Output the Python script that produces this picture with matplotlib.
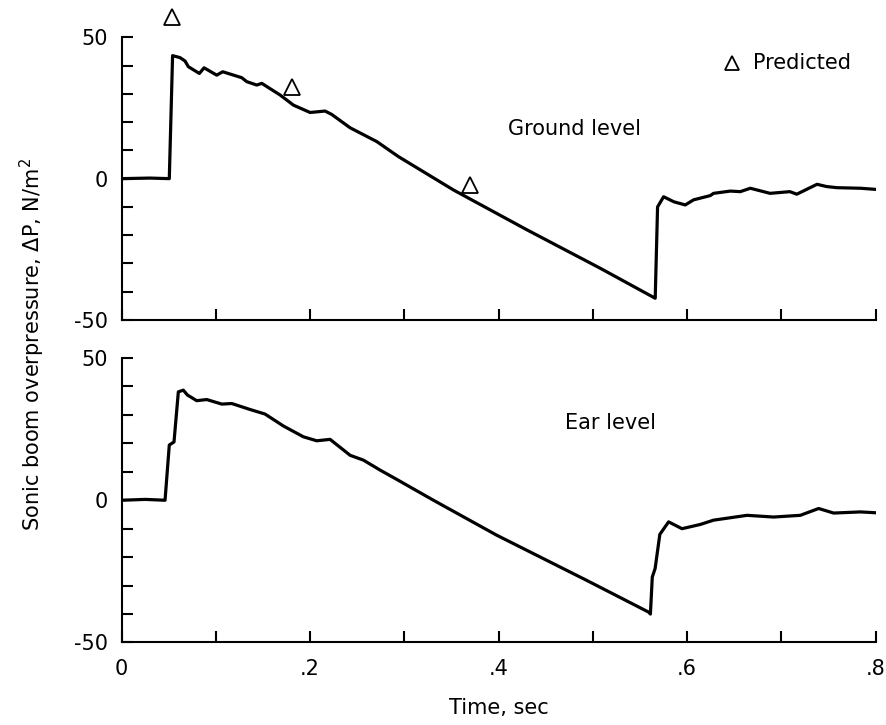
import matplotlib
matplotlib.use("Agg")
import matplotlib.pyplot as plt
from matplotlib.ticker import MultipleLocator

plt.rcParams['font.family'] = ['DejaVu Sans']

# Ground level trace (time in sec, overpressure in N/m^2)
ground_t = [0.0, 0.030, 0.0505, 0.054, 0.0619, 0.0672, 0.0707, 0.0824, 0.0874,
            0.1008, 0.1072, 0.1274, 0.1327, 0.1433, 0.1486, 0.168, 0.1822,
            0.1999, 0.2158, 0.2229, 0.2423, 0.2707, 0.2936, 0.352, 0.43,
            0.5078, 0.5661, 0.5686, 0.575, 0.586, 0.598, 0.6068, 0.6245,
            0.628, 0.6458, 0.6564, 0.667, 0.688, 0.709, 0.7163, 0.7378,
            0.748, 0.759, 0.784, 0.8]
ground_p = [0.0, 0.2, 0.0, 43.5, 42.8, 41.6, 39.6, 37.2, 39.2,
            36.6, 37.8, 35.7, 34.3, 33.1, 33.7, 29.6, 26.0,
            23.4, 23.9, 22.7, 18.0, 13.1, 7.8, -4.0, -18.1,
            -31.7, -42.3, -10.0, -6.4, -8.2, -9.3, -7.5, -6.0,
            -5.2, -4.4, -4.6, -3.4, -5.2, -4.6, -5.5, -2.0,
            -2.8, -3.2, -3.4, -3.8]

# Ear level trace
ear_t = [0.0, 0.025, 0.046, 0.0505, 0.0555, 0.0601, 0.0654, 0.0697, 0.0796,
         0.0902, 0.1062, 0.1168, 0.1362, 0.1521, 0.1716, 0.1928, 0.207,
         0.2211, 0.2424, 0.2565, 0.2742, 0.2936, 0.3308, 0.398, 0.4936,
         0.559, 0.561, 0.563, 0.566, 0.571, 0.5803, 0.5945, 0.614, 0.628,
         0.6635, 0.6917, 0.72, 0.7395, 0.7554, 0.784, 0.8]
ear_p = [0.0, 0.3, 0.0, 19.4, 20.5, 38.1, 38.7, 37.0, 35.0,
         35.4, 33.8, 34.0, 31.9, 30.3, 26.1, 22.3, 20.9,
         21.4, 15.8, 14.1, 10.6, 7.0, 0.0, -12.3, -28.2,
         -39.3, -40.0, -27.0, -24.0, -12.0, -7.6, -10.0, -8.5, -7.0,
         -5.3, -5.9, -5.3, -2.9, -4.5, -4.1, -4.4]

# Predicted points (ground level)
pred_t = [0.053, 0.181, 0.370]
pred_p = [57.0, 32.3, -2.3]

x_labels = ['0', '.2', '.4', '.6', '.8']
x_label_pos = [0.0, 0.2, 0.4, 0.6, 0.8]
y_labels = ['-50', '0', '50']
y_label_pos = [-50, 0, 50]

fig = plt.figure(figsize=(8.87, 7.25), dpi=100)
ax1 = fig.add_axes([0.1372, 0.5586, 0.850, 0.390])
ax2 = fig.add_axes([0.1372, 0.1138, 0.850, 0.3924])


def ylab(v, p):
    r = round(v)
    return y_labels[y_label_pos.index(r)] if r in y_label_pos else ''


def xlab(v, p):
    r = round(v, 1)
    return x_labels[x_label_pos.index(r)] if r in x_label_pos else ''


for ax in (ax1, ax2):
    ax.set_xlim(0, 0.8)
    ax.set_ylim(-50, 50)
    for s in ('top', 'right'):
        ax.spines[s].set_visible(False)
    for s in ('left', 'bottom'):
        ax.spines[s].set_linewidth(1.5)
    ax.xaxis.set_major_locator(MultipleLocator(0.1))
    ax.yaxis.set_major_locator(MultipleLocator(10))
    ax.tick_params(direction='in', length=8, width=1.5, labelsize=15)
    ax.yaxis.set_major_formatter(plt.FuncFormatter(ylab))
    ax.tick_params(axis='y', pad=10)
    ax.tick_params(axis='x', pad=12)

ax1.set_xticklabels([])
ax2.xaxis.set_major_formatter(plt.FuncFormatter(xlab))

ax1.plot(ground_t, ground_p, color='black', lw=2.3, solid_joinstyle='round')
ax1.plot(pred_t, pred_p, linestyle='none', marker='^', ms=11, mfc='white',
         mec='black', mew=1.3, clip_on=False, zorder=5)
ax2.plot(ear_t, ear_p, color='black', lw=2.3, solid_joinstyle='round')

ax1.text(0.41, 17.5, 'Ground level', fontsize=15, ha='left', va='center')
ax2.text(0.47, 27.0, 'Ear level', fontsize=15, ha='left', va='center')

# legend for predicted values
ax1.plot([0.6476], [41.0], linestyle='none', marker='^', ms=10, mfc='white',
         mec='black', mew=1.3)
ax1.text(0.670, 41.0, 'Predicted', fontsize=15, ha='left', va='center')

fig.text(0.036, 0.525, r'Sonic boom overpressure, $\Delta$P, N/m$^2$',
         rotation=90, fontsize=15, ha='center', va='center')
fig.text(0.562, 0.024, 'Time, sec', fontsize=15, ha='center', va='center')

fig.savefig('out.png', dpi=100)
